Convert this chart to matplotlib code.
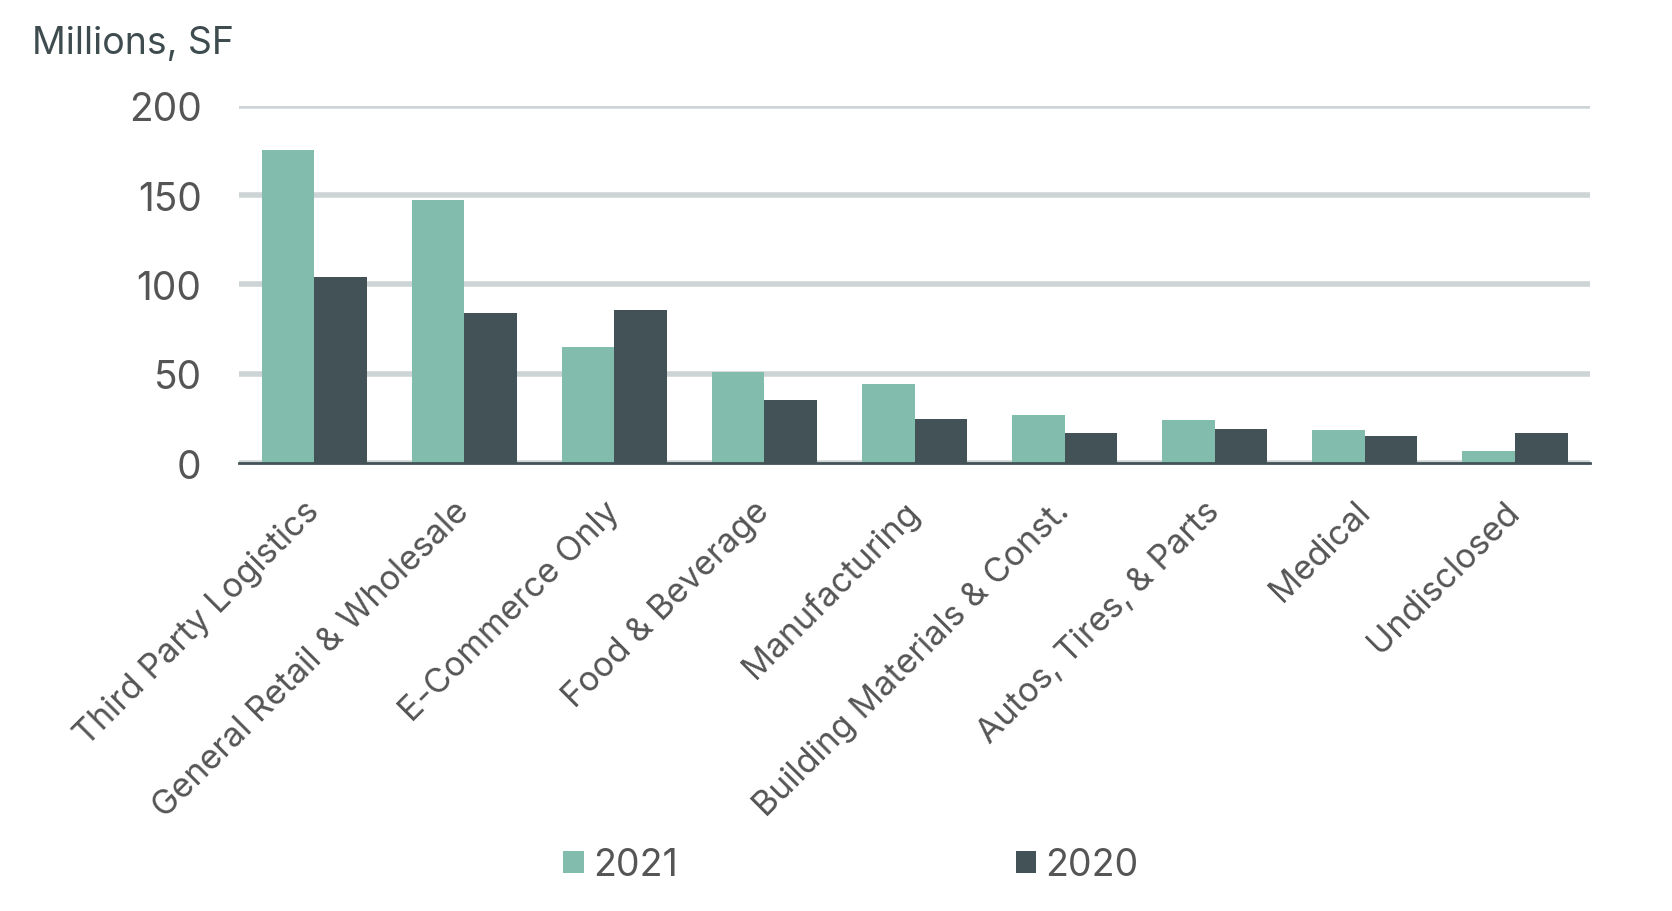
"""Industrial leasing by tenant industry, 2021 vs 2020."""
import matplotlib.pyplot as plt
import numpy as np

CATEGORIES = ["Third Party Logistics", "General Retail & Wholesale", "E-Commerce Only",
              "Food & Beverage", "Manufacturing", "Building Materials & Const.",
              "Autos, Tires, & Parts", "Medical", "Undisclosed"]
VALS_2021 = [175, 147, 65, 51, 44.5, 27, 24, 18.5, 7]
VALS_2020 = [104, 84, 85.5, 35.5, 24.5, 17, 19, 15.5, 17]
YTICKS = [0, 50, 100, 150, 200]

TEAL = "#82bcad"
DARK = "#435256"
GRID = "#cdd4d5"
TXT = "#555555"

plt.rcParams.update({"font.family": ["Inter", "DejaVu Sans"], "figure.dpi": 100})

fig = plt.figure(figsize=(16.72, 9.12))
ax = fig.add_axes([0.143, 0.491, 0.808, 0.392])

x = np.arange(len(CATEGORIES))
w = 0.35
ax.bar(x - w / 2, VALS_2021, w, color=TEAL, label="2021", zorder=3)
ax.bar(x + w / 2, VALS_2020, w, color=DARK, label="2020", zorder=3)

ax.set_xlim(-0.5, len(CATEGORIES) - 0.5)
ax.set_ylim(0, 200)
ax.set_yticks(YTICKS)
ax.yaxis.grid(True, color=GRID, lw=4, zorder=0)
ax.tick_params(axis="y", length=0, pad=27, labelsize=28, labelcolor=TXT)
ax.tick_params(axis="x", length=0, pad=31, labelsize=24.5, labelcolor=TXT)
ax.set_xticks(x)
ax.set_xticklabels(CATEGORIES, rotation=45, ha="right", va="center",
                   rotation_mode="anchor")
for side in ["top", "right", "left"]:
    ax.spines[side].set_visible(False)
ax.spines["bottom"].set_color(DARK)
ax.spines["bottom"].set_linewidth(2)
ax.spines["bottom"].set_zorder(4)

fig.text(0.019, 0.952, "Millions, SF", fontsize=27, color="#3f4c4f", va="center")

fig.legend(loc="center", bbox_to_anchor=(0.509, 0.05), ncol=2, frameon=False,
           fontsize=27, handlelength=0.55, handleheight=0.55, handletextpad=0.25,
           columnspacing=9.0, labelcolor=TXT)

fig.savefig("out.png")
